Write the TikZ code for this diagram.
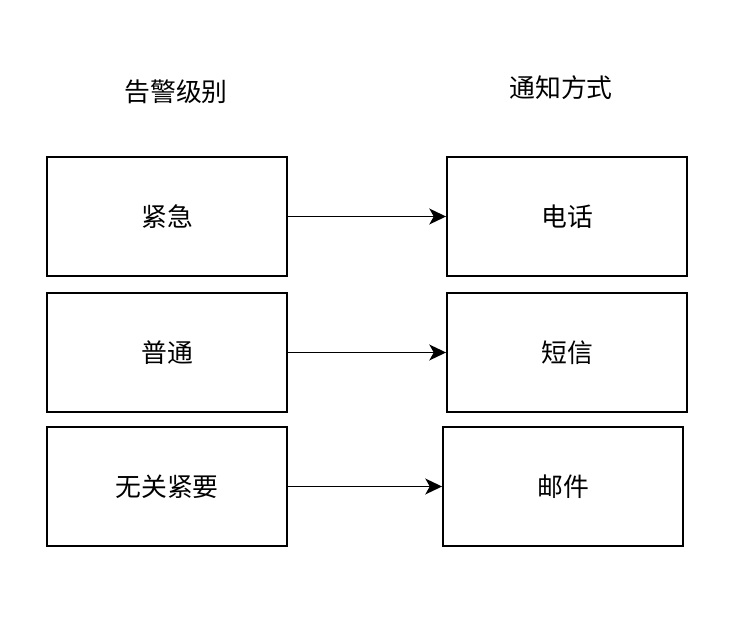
\documentclass[tikz,border=0pt]{standalone}
\usepackage{fontspec}
\setmainfont{Noto Sans CJK SC}
\usetikzlibrary{arrows.meta}

\begin{document}
\begin{tikzpicture}[x=0.02cm, y=-0.02cm, every node/.style={font=\fontsize{14.7}{17}\selectfont},
	box/.style={draw, line width=1.1pt, minimum width=4.8cm, minimum height=2.38cm, inner sep=0pt},
	link/.style={line width=1.1pt, -{Stealth[length=9.5pt, width=9pt, inset=2.5pt]}}]
	\useasboundingbox (0,0) rectangle (744,624);
	% column headers
	\node (levels) at (176,92) {告警级别};
	\node (channels) at (561,88) {通知方式};
	% alert levels
	\node[box] (urgent) at (167,216.5) {紧急};
	\node[box] (normal) at (167,352.5) {普通};
	\node[box] (minor) at (167,486.5) {无关紧要};
	% notification channels
	\node[box] (phone) at (567,216.5) {电话};
	\node[box] (sms) at (567,352.5) {短信};
	\node[box] (mail) at (563,486.5) {邮件};
	% mappings
	\draw[link] (urgent) -- (phone);
	\draw[link] (normal) -- (sms);
	\draw[link] (minor) -- (mail);
\end{tikzpicture}
\end{document}
